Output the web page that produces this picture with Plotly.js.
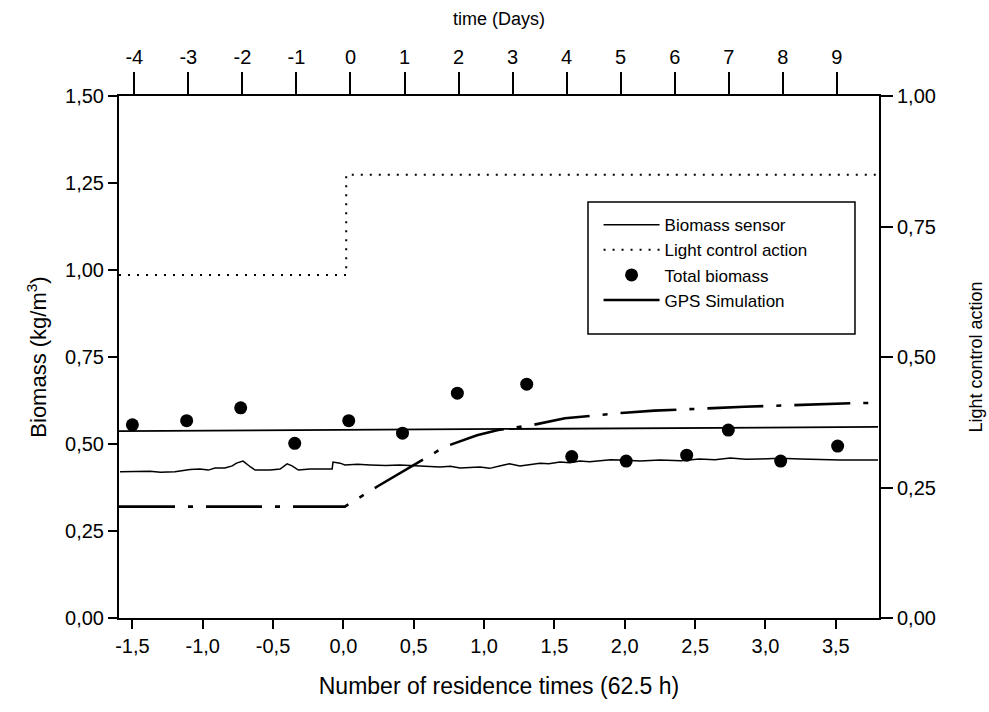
<!DOCTYPE html>
<html>
<head>
<meta charset="utf-8">
<script src="https://cdn.plot.ly/plotly-3.0.1.min.js"></script>
<style>html,body{margin:0;padding:0;background:#fff;}#chart{width:989px;height:712px;}</style>
</head>
<body>
<div id="chart"></div>
<script>
// ---- data (x = number of residence times) ----
const sensorX = [-1.588,-1.375,-1.30,-1.197,-1.09,-1.02,-0.96,-0.913,-0.842,-0.79,-0.76,-0.713,-0.66,-0.628,-0.52,-0.45,-0.40,-0.365,-0.32,-0.237,-0.13,-0.08,-0.074,-0.024,0.011,0.10,0.19,0.30,0.40,0.545,0.687,0.76,0.829,0.97,1.04,1.11,1.18,1.255,1.33,1.397,1.46,1.54,1.61,1.68,1.75,1.82,1.90,1.97,2.11,2.25,2.40,2.53,2.64,2.75,2.86,2.96,3.10,3.25,3.40,3.53,3.80];
const sensorY = [0.420,0.422,0.419,0.420,0.427,0.428,0.425,0.431,0.431,0.437,0.445,0.451,0.434,0.425,0.425,0.428,0.443,0.437,0.425,0.428,0.428,0.428,0.448,0.445,0.440,0.442,0.440,0.438,0.440,0.437,0.434,0.436,0.431,0.434,0.430,0.437,0.443,0.437,0.441,0.445,0.443,0.448,0.446,0.451,0.449,0.451,0.455,0.454,0.451,0.454,0.452,0.457,0.455,0.460,0.456,0.457,0.459,0.457,0.455,0.454,0.454];

const refX = [-1.595, 3.80];
const refY = [0.537, 0.549];

const lightX = [-1.595, 0.02, 0.02, 3.80];
const lightY = [0.657, 0.657, 0.849, 0.849];

const totalX = [-1.50,-1.114,-0.73,-0.346,0.038,0.42,0.81,1.303,1.623,2.01,2.44,2.736,3.108,3.513];
const totalY = [0.555,0.567,0.604,0.502,0.567,0.531,0.646,0.672,0.464,0.451,0.468,0.540,0.451,0.494];

const gpsX = [-1.595,0.01,0.25,0.5,0.72,0.95,1.10,1.35,1.575,2.0,2.21,2.63,2.85,3.61,3.75];
const gpsY = [0.32,0.32,0.38,0.44,0.492,0.525,0.54,0.555,0.574,0.59,0.596,0.603,0.607,0.617,0.618];

// ---- ticks ----
const bottomTickVals = [-1.5,-1.0,-0.5,0.0,0.5,1.0,1.5,2.0,2.5,3.0,3.5];
const bottomTickText = ['-1,5','-1,0','-0,5','0,0','0,5','1,0','1,5','2,0','2,5','3,0','3,5'];
const topTickVals = [-4,-3,-2,-1,0,1,2,3,4,5,6,7,8,9];
const topTickText = ['-4','-3','-2','-1','0','1','2','3','4','5','6','7','8','9'];
const leftTickVals = [0,0.25,0.5,0.75,1.0,1.25,1.5];
const leftTickText = ['0,00','0,25','0,50','0,75','1,00','1,25','1,50'];
const rightTickVals = [0,0.25,0.5,0.75,1.0];
const rightTickText = ['0,00','0,25','0,50','0,75','1,00'];

const FONT = 'Arial, "Liberation Sans", sans-serif';

const traces = [
  {x: sensorX, y: sensorY, type:'scatter', mode:'lines', name:'Biomass sensor',
   line:{color:'#000', width:1.5}},
  {x: lightX, y: lightY, type:'scatter', mode:'lines', name:'Light control action', yaxis:'y2',
   line:{color:'#000', width:2, dash:'2px,7px'}},
  {x: totalX, y: totalY, type:'scatter', mode:'markers', name:'Total biomass',
   marker:{color:'#000', size:13}},
  {x: gpsX, y: gpsY, type:'scatter', mode:'lines', name:'GPS Simulation',
   line:{color:'#000', width:2.6, dash:'56px,13px,5px,13px'}},
  {x: refX, y: refY, type:'scatter', mode:'lines', name:'Sensor reference', showlegend:false,
   line:{color:'#000', width:1.8}},
  {x: [0], y: [0], xaxis:'x2', type:'scatter', mode:'markers', showlegend:false, hoverinfo:'skip',
   marker:{opacity:0}}
];

const axisCommon = {showgrid:false, zeroline:false, showline:true, linecolor:'#000', linewidth:2,
  ticks:'outside', tickcolor:'#000', tickwidth:2, tickfont:{family:FONT, size:20, color:'#000'}};

const layout = {
  width:989, height:712,
  paper_bgcolor:'#fff', plot_bgcolor:'#fff',
  margin:{l:119, r:110, t:96, b:94},
  font:{family:FONT, color:'#000'},
  showlegend:true,
  legend:{x:0.631, y:0.787, xanchor:'left', yanchor:'top', bgcolor:'rgba(0,0,0,0)', borderwidth:0,
    font:{family:FONT, size:17, color:'#000'}, itemwidth:56, tracegroupgap:0},
  xaxis: Object.assign({}, axisCommon, {range:[-1.595,3.807], tickvals:bottomTickVals, ticktext:bottomTickText,
    ticklen:9, title:{text:'Number of residence times (62.5 h)', font:{family:FONT, size:23, color:'#000'}, standoff:22}}),
  xaxis2: Object.assign({}, axisCommon, {overlaying:'x', side:'top', range:[-4.283,9.78], tickvals:topTickVals, ticktext:topTickText,
    ticklen:22, title:{text:'time (Days)', font:{family:FONT, size:18, color:'#000'}, standoff:16}}),
  yaxis: Object.assign({}, axisCommon, {range:[0,1.5], tickvals:leftTickVals, ticktext:leftTickText, ticklen:9,
    title:{text:'Biomass (kg/m<sup>3</sup>)', font:{family:FONT, size:22, color:'#000'}, standoff:12}}),
  yaxis2: Object.assign({}, axisCommon, {overlaying:'y', side:'right', range:[0,1], tickvals:rightTickVals, ticktext:rightTickText,
    ticklen:12, title:{text:'Light control action', font:{family:FONT, size:18, color:'#000'}, standoff:34}}),
  shapes:[{type:'rect', xref:'paper', yref:'paper', x0:0.6171, x1:0.9684, y0:0.544, y1:0.797,
    line:{color:'#000', width:1.5}, fillcolor:'rgba(0,0,0,0)'}]
};

Plotly.newPlot('chart', traces, layout, {displayModeBar:false, staticPlot:true});
</script>
</body>
</html>
